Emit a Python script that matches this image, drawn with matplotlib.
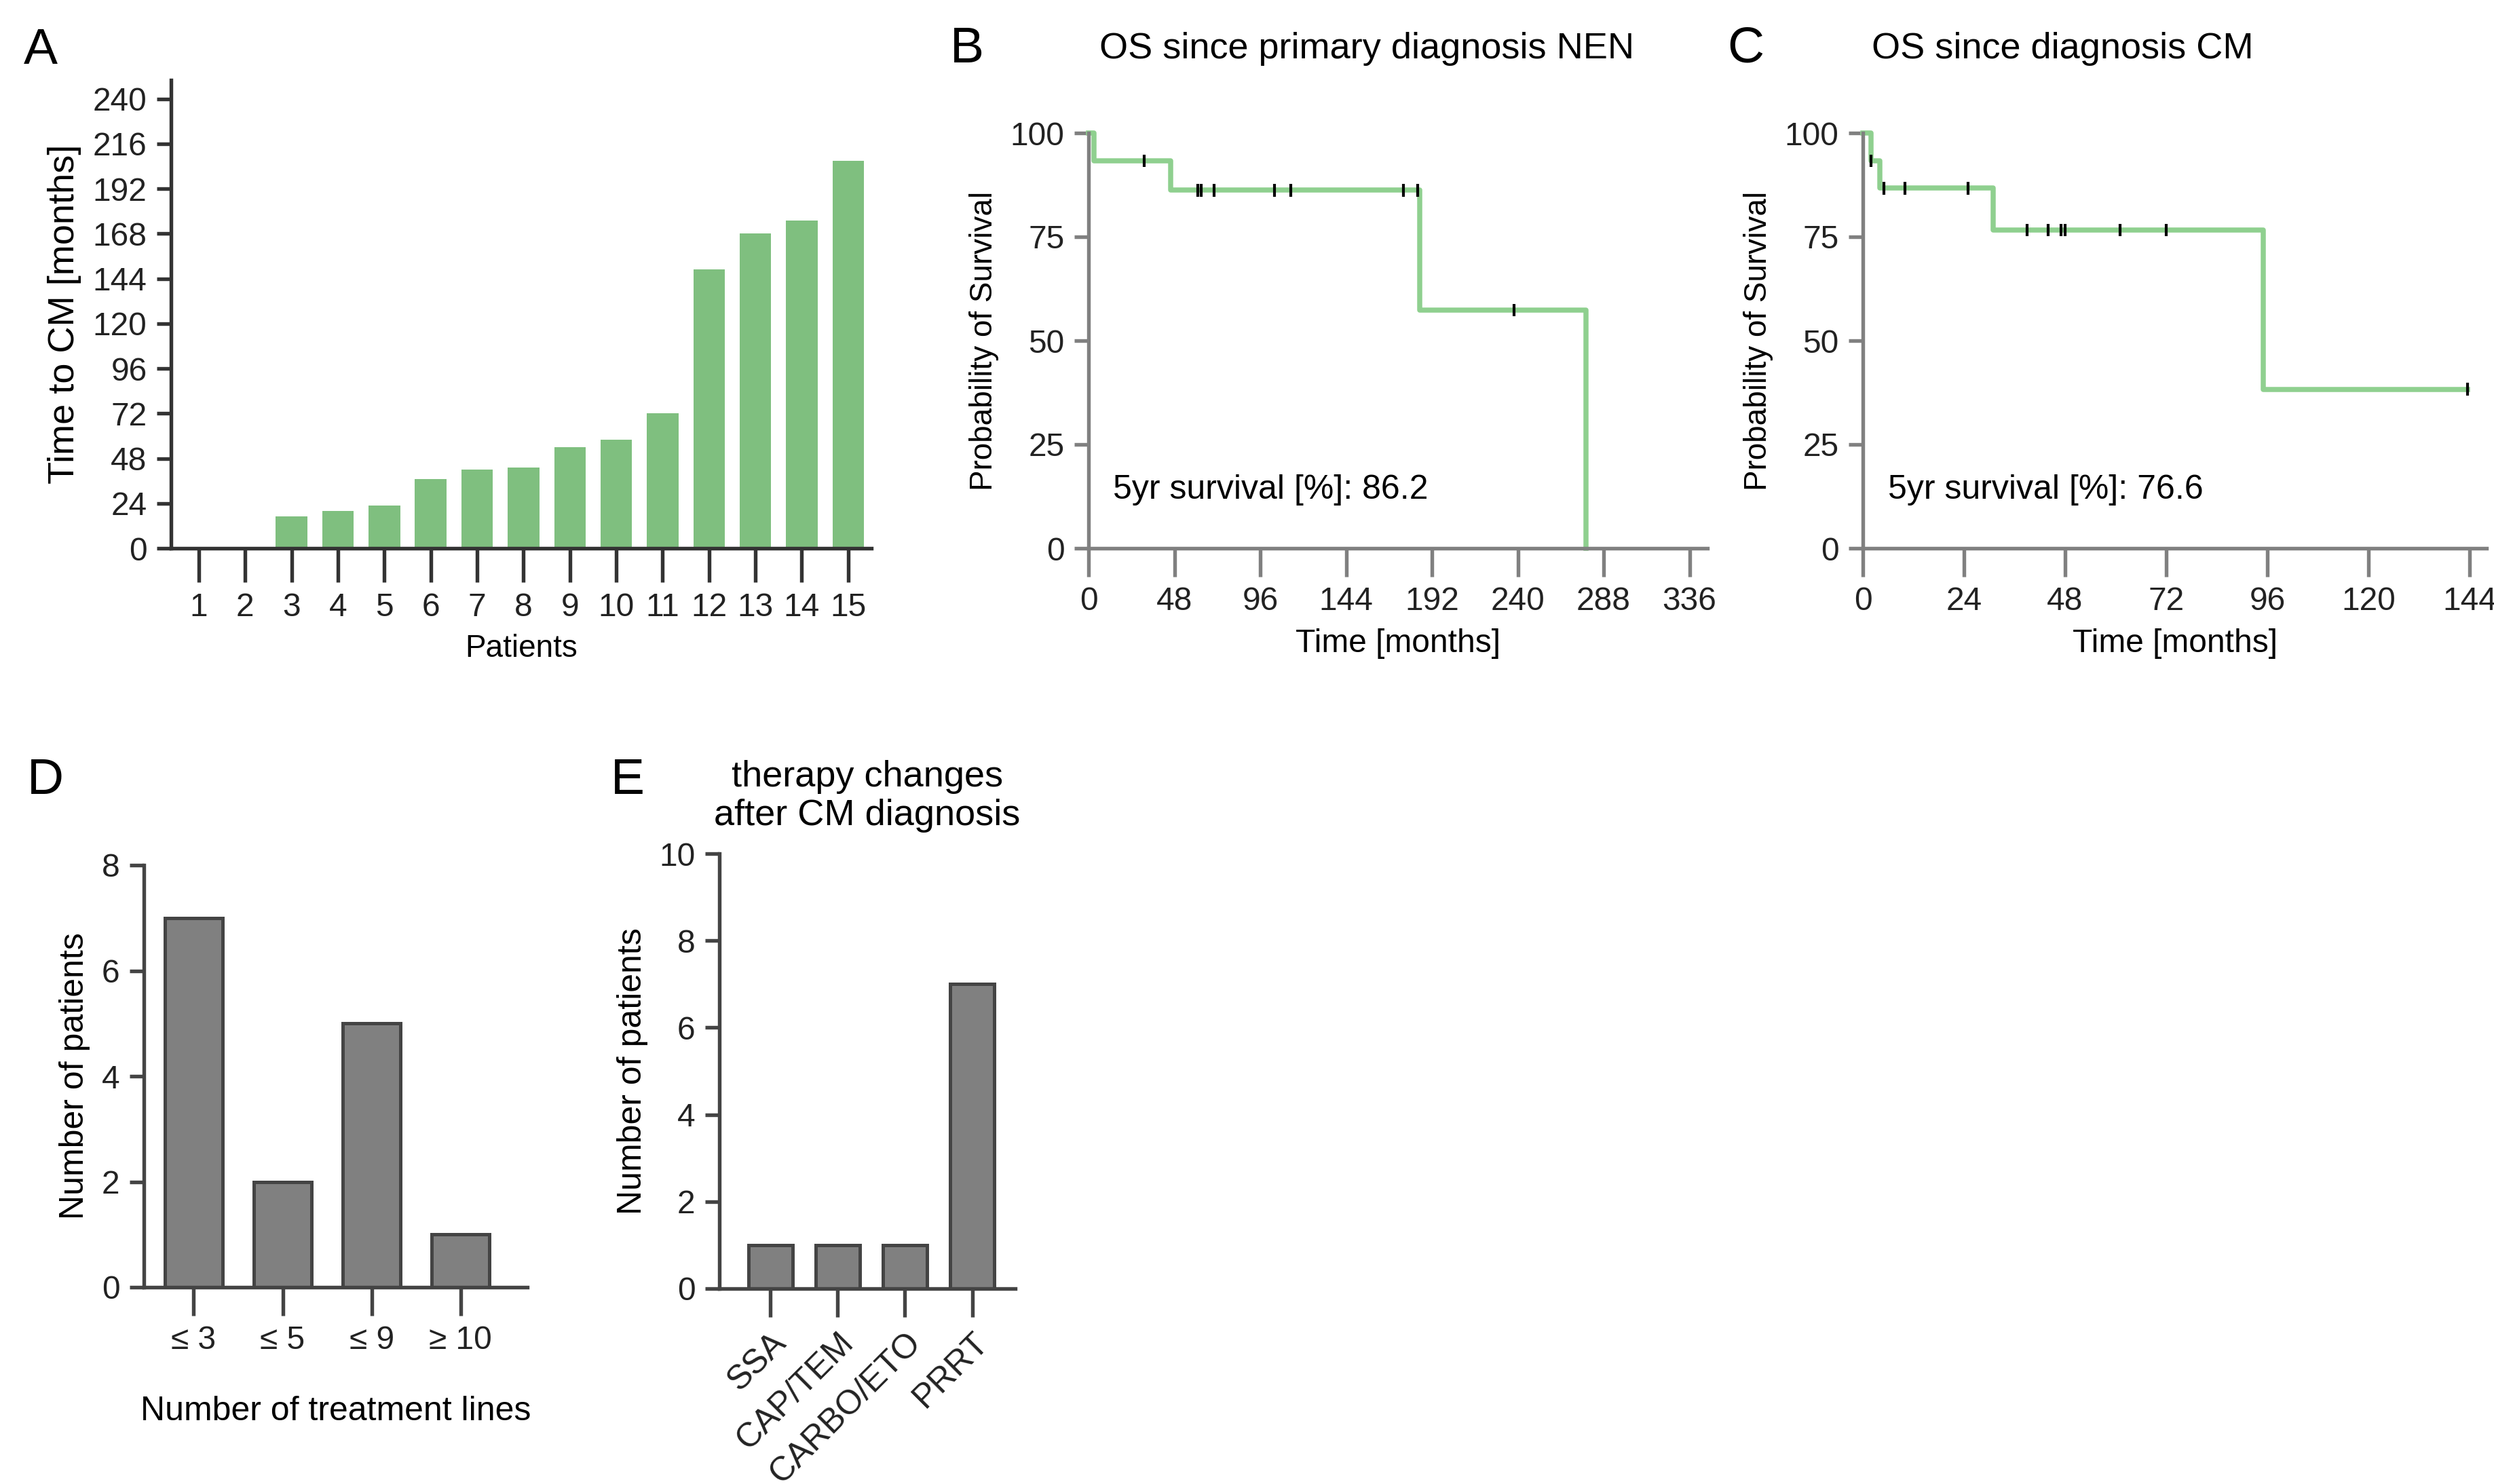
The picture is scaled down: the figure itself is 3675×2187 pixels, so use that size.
import matplotlib
matplotlib.use('Agg')
import matplotlib.pyplot as plt
import numpy as np

plt.rcParams['font.family'] = ['Liberation Sans', 'DejaVu Sans']

# Panel A
patients = list(range(1, 16))
time_to_cm = [0, 0, 17, 20, 23, 37, 42, 43, 54, 58, 72, 149, 168, 175, 207]

# Panel B (KM steps and censor marks)
b_step_t = [0, 3, 46, 185, 278]
b_step_s = [100, 93.3, 86.2, 57.4, 0]
b_cens_t = [31, 61, 63, 70, 104, 113, 176, 184, 238]
b_cens_s = [93.3, 86.2, 86.2, 86.2, 86.2, 86.2, 86.2, 86.2, 57.4]

# Panel C
c_step_t = [0, 2, 4, 31, 95, 143.5]
c_step_s = [100, 93.3, 86.7, 76.6, 38.3, 38.3]
c_cens_t = [2, 5, 10, 25, 39, 44, 47, 48, 61, 72, 143.5]
c_cens_s = [93.3, 86.7, 86.7, 86.7, 76.6, 76.6, 76.6, 76.6, 76.6, 76.6, 38.3]

# Panel D
lines_cat = ['≤ 3', '≤ 5', '≤ 9', '≥ 10']
lines_n = [7, 2, 5, 1]

# Panel E
therapy_cat = ['SSA', 'CAP/TEM', 'CARBO/ETO', 'PRRT']
therapy_n = [1, 1, 1, 7]

W, H = 3675, 2187
fig = plt.figure(figsize=(W / 300, H / 300), dpi=300)


def box(l, r, b, t):
    return [l / W, 1 - b / H, (r - l) / W, (b - t) / H]


def style(ax, col='#333333'):
    for s in ['top', 'right']:
        ax.spines[s].set_visible(False)
    for s in ['left', 'bottom']:
        ax.spines[s].set_color(col)
        ax.spines[s].set_linewidth(1.3)
    ax.tick_params(colors=col, width=1.3, length=5, labelsize=11.5, labelcolor='#222222')


green_bar = '#7fbf7f'
green_line = '#8fd08f'
gray = '#808080'

# A
ax = fig.add_axes(box(252, 1284, 808, 118))
ax.bar(patients, time_to_cm, width=0.68, color=green_bar)
ax.set_xlim(0.4, 15.5)
ax.set_ylim(0, 250)
ax.set_yticks(np.arange(0, 241, 24))
ax.set_xticks(patients)
style(ax)
ax.tick_params(axis='x', length=12)
ax.set_ylabel('Time to CM [months]', fontsize=13)
ax.set_xlabel('Patients', fontsize=11)
fig.text(35 / W, 1 - 75 / H, 'A', fontsize=18, va='center')


def km(ax, st, ss, ct, cs, xmax, xticks, txt, title, title_x, letter, letter_x):
    ax.step(st, ss, where='post', color=green_line, lw=1.8, clip_on=False)
    ax.vlines(ct, np.array(cs) - 1.5, np.array(cs) + 1.5, color='black', lw=1.0)
    ax.set_xlim(0, xmax)
    ax.set_ylim(0, 100)
    ax.set_xticks(xticks)
    ax.set_yticks([0, 25, 50, 75, 100])
    style(ax, gray)
    ax.tick_params(axis='x', length=10)
    ax.set_ylabel('Probability of Survival', fontsize=11)
    ax.set_xlabel('Time [months]', fontsize=11.5)
    ax.text(0.04, 0.12, txt, transform=ax.transAxes, fontsize=12)
    fig.text(title_x / W, 1 - 72 / H, title, fontsize=13, ha='center', va='center')
    fig.text(letter_x / W, 1 - 72 / H, letter, fontsize=18, va='center')


axb = fig.add_axes(box(1604, 2516, 808, 196))
km(axb, b_step_t, b_step_s, b_cens_t, b_cens_s, 346, np.arange(0, 337, 48),
   '5yr survival [%]: 86.2', 'OS since primary diagnosis NEN', 2014, 'B', 1400)
axc = fig.add_axes(box(2745, 3664, 808, 196))
km(axc, c_step_t, c_step_s, c_cens_t, c_cens_s, 148, np.arange(0, 145, 24),
   '5yr survival [%]: 76.6', 'OS since diagnosis CM', 3039, 'C', 2545)

# D
axd = fig.add_axes(box(212, 777, 1897, 1275))
axd.bar(range(4), lines_n, width=0.65, color=gray, edgecolor='#444444', lw=1.2)
axd.set_xlim(-0.56, 3.75)
axd.set_ylim(0, 8)
axd.set_yticks([0, 2, 4, 6, 8])
axd.set_xticks(range(4))
axd.set_xticklabels(lines_cat)
style(axd, '#444444')
axd.tick_params(axis='x', length=10)
axd.set_ylabel('Number of patients', fontsize=12)
axd.set_xlabel('Number of treatment lines', fontsize=12, labelpad=14)
fig.text(40 / W, 1 - 1150 / H, 'D', fontsize=18, va='center')

# E
axe = fig.add_axes(box(1060, 1496, 1899, 1258))
axe.bar(range(4), therapy_n, width=0.65, color=gray, edgecolor='#444444', lw=1.2)
axe.set_xlim(-0.76, 3.64)
axe.set_ylim(0, 10)
axe.set_yticks(np.arange(0, 11, 2))
axe.set_xticks(range(4))
axe.set_xticklabels(therapy_cat, rotation=45, ha='right', rotation_mode='anchor')
style(axe, '#444444')
axe.tick_params(axis='x', length=10, labelsize=12)
axe.set_ylabel('Number of patients', fontsize=12)
axe.set_title('therapy changes\nafter CM diagnosis', fontsize=13, pad=10)
fig.text(900 / W, 1 - 1150 / H, 'E', fontsize=18, va='center')

fig.savefig('out.png', dpi=300, facecolor='white')
